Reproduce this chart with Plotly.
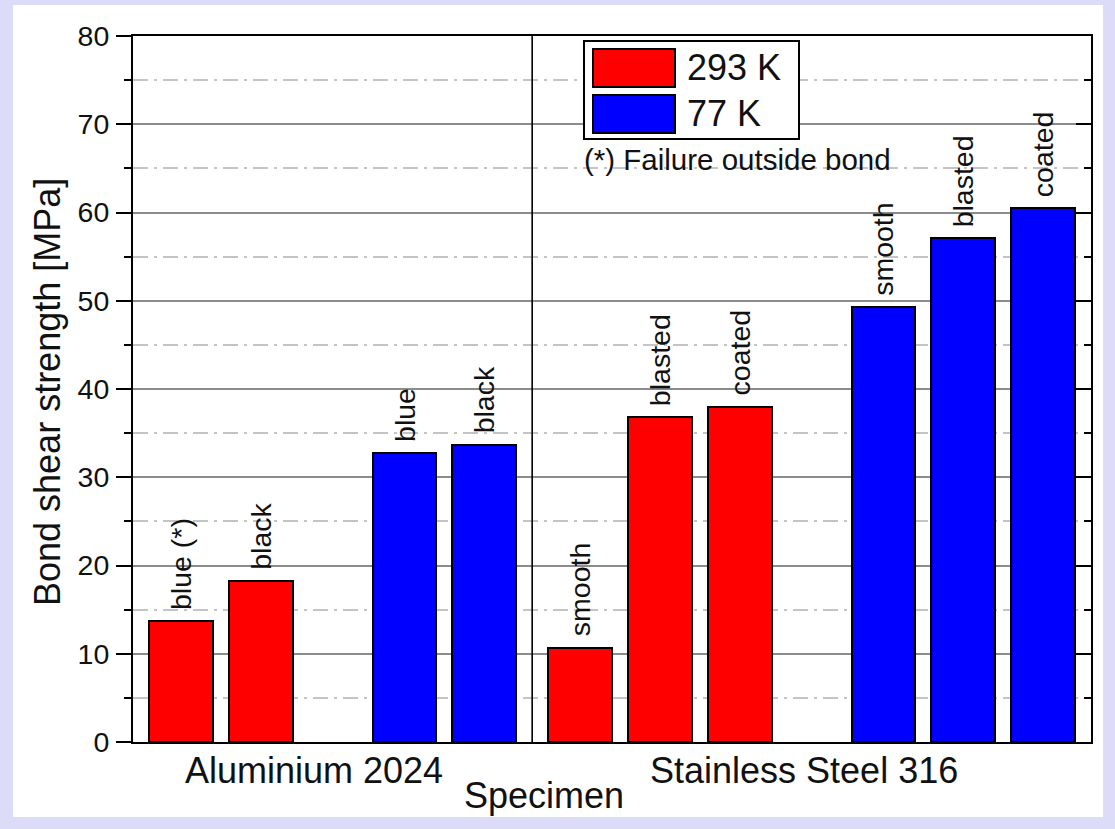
import plotly.graph_objects as go

# ---- data -------------------------------------------------------------
groups = ["Aluminium 2024", "Stainless Steel 316"]
al_finish_293K = ["blue (*)", "black"]
al_finish_77K = ["blue", "black"]
ss_finish_293K = ["smooth", "blasted", "coated"]
ss_finish_77K = ["smooth", "blasted", "coated"]
al_293K = [13.7, 18.3]
al_77K = [32.8, 33.7]
ss_293K = [10.7, 36.8, 38.0]
ss_77K = [49.3, 57.1, 60.5]
series_names = ["293 K", "77 K"]
footnote = "(*) Failure outside bond"
y_title = "Bond shear strength [MPa]"
x_title = "Specimen"

# ---- styling ----------------------------------------------------------
FONT = "Liberation Sans, Arial, Helvetica, sans-serif"
INK = "#111111"
COLORS = ["#ff0000", "#0000ff"]
BG = "#dcdcf9"

FIG_W, FIG_H = 1115, 829
L, R, T, B = 133, 1091, 36, 742          # plot area in pixels
PW, PH = R - L, B - T


def fx(px):
    return (px - L) / PW


def fy(py):
    return (B - py) / PH


# ---- bar layout: each group is 2n+1 units wide -----------------------
group_data = [
    (al_finish_293K, al_finish_77K, al_293K, al_77K),
    (ss_finish_293K, ss_finish_77K, ss_293K, ss_77K),
]
xs = [[], []]
ys = [[], []]
labels = [[], []]
boundaries = []
start = 0.0
for fin_warm, fin_cold, v_warm, v_cold in group_data:
    n = len(v_warm)
    width = 2 * n + 1
    for i in range(n):
        xs[0].append(start + 0.6 + i)
        ys[0].append(v_warm[i])
        labels[0].append(fin_warm[i])
        xs[1].append(start + width - 0.6 - (n - 1 - i))
        ys[1].append(v_cold[i])
        labels[1].append(fin_cold[i])
    start += width
    boundaries.append(start)
x_max = start

fig = go.Figure()
for k in range(2):
    fig.add_trace(go.Bar(
        x=xs[k], y=ys[k], name=series_names[k], width=0.8,
        marker=dict(color=COLORS[k], line=dict(color="black", width=2)),
        showlegend=False, hoverinfo="x+y",
    ))
# carrier for the right-hand axis
fig.add_trace(go.Scatter(x=[None], y=[None], yaxis="y2",
                         showlegend=False, hoverinfo="skip"))

annotations = []
# finish labels above each bar
for k in range(2):
    for x, y, t in zip(xs[k], ys[k], labels[k]):
        annotations.append(dict(
            x=x, y=y, xref="x", yref="y", text=t, showarrow=False,
            textangle=-90, xanchor="center", yanchor="bottom", yshift=9,
            font=dict(family=FONT, size=28.5, color=INK),
        ))

# group names under the axis
for name, cx in zip(groups, [fx(314), fx(804)]):
    annotations.append(dict(
        x=cx, y=fy(770), xref="paper", yref="paper", text=name,
        showarrow=False, xanchor="center", yanchor="middle",
        font=dict(family=FONT, size=36, color=INK),
    ))
annotations.append(dict(
    x=fx(544), y=fy(795), xref="paper", yref="paper", text=x_title,
    showarrow=False, xanchor="center", yanchor="middle",
    font=dict(family=FONT, size=36, color=INK),
))
annotations.append(dict(
    x=fx(47), y=fy(392), xref="paper", yref="paper", text=y_title,
    showarrow=False, textangle=-90, xanchor="center", yanchor="middle",
    font=dict(family=FONT, size=36, color=INK),
))

# white panel, group separator and legend box
shapes = []
shapes.append(dict(type="rect", xref="paper", yref="paper",
                   x0=fx(13), x1=fx(1103), y0=fy(817), y1=fy(5),
                   fillcolor="white", line=dict(width=0), layer="below"))
for b in boundaries[:-1]:
    shapes.append(dict(type="line", xref="x", yref="y", x0=b, x1=b,
                       y0=0, y1=80, line=dict(color="black", width=1.6),
                       layer="above"))
shapes.append(dict(type="rect", xref="paper", yref="paper",
                   x0=fx(584), x1=fx(799), y0=fy(139), y1=fy(41),
                   fillcolor="white", line=dict(color="black", width=2),
                   layer="above"))
for k, (top, bot) in enumerate([(49, 87), (95, 133)]):
    shapes.append(dict(type="rect", xref="paper", yref="paper",
                       x0=fx(593), x1=fx(675), y0=fy(bot), y1=fy(top),
                       fillcolor=COLORS[k], line=dict(color="black", width=2),
                       layer="above"))
    annotations.append(dict(
        x=fx(685), y=fy((top + bot) / 2 - 0.5), xref="paper", yref="paper",
        text=series_names[k], showarrow=False, xanchor="left",
        yanchor="middle", font=dict(family=FONT, size=36, color=INK),
    ))
annotations.append(dict(
    x=fx(582), y=fy(159), xref="paper", yref="paper", text=footnote,
    showarrow=False, xanchor="left", yanchor="middle",
    font=dict(family=FONT, size=29.5, color=INK),
))

minor_left = dict(dtick=5, tick0=0, ticks="outside", ticklen=7, tickwidth=2,
                  tickcolor="black", showgrid=True, gridcolor="#c4c4c4",
                  gridwidth=1.5, griddash="15px,6px,3px,6px")
minor_right = dict(dtick=5, tick0=0, ticks="inside", ticklen=7, tickwidth=2,
                   tickcolor="black", showgrid=False)

fig.update_layout(
    width=FIG_W, height=FIG_H,
    paper_bgcolor=BG, plot_bgcolor="white",
    margin=dict(l=L, r=FIG_W - R, t=T, b=FIG_H - B, autoexpand=False),
    showlegend=False, bargap=0,
    font=dict(family=FONT, color=INK),
    xaxis=dict(range=[0, x_max], showline=True, linewidth=2,
               linecolor="black", mirror=True, ticks="",
               showticklabels=False, showgrid=False, zeroline=False,
               fixedrange=True),
    yaxis=dict(range=[0, 80], dtick=10, tick0=0, ticks="outside",
               ticklen=15, tickwidth=2, tickcolor="black", showline=True,
               linewidth=2, linecolor="black", showgrid=True,
               gridcolor="#8c8c8c", gridwidth=1.5, zeroline=False,
               tickfont=dict(family=FONT, size=28.5, color=INK),
               ticklabelstandoff=1, minor=minor_left),
    yaxis2=dict(range=[0, 80], dtick=10, tick0=0, overlaying="y",
                side="right", ticks="inside", ticklen=15, tickwidth=2,
                tickcolor="black", showline=True, linewidth=2,
                linecolor="black", showticklabels=False, showgrid=False,
                zeroline=False, minor=minor_right),
    annotations=annotations, shapes=shapes,
)

fig.write_html("out.html")
